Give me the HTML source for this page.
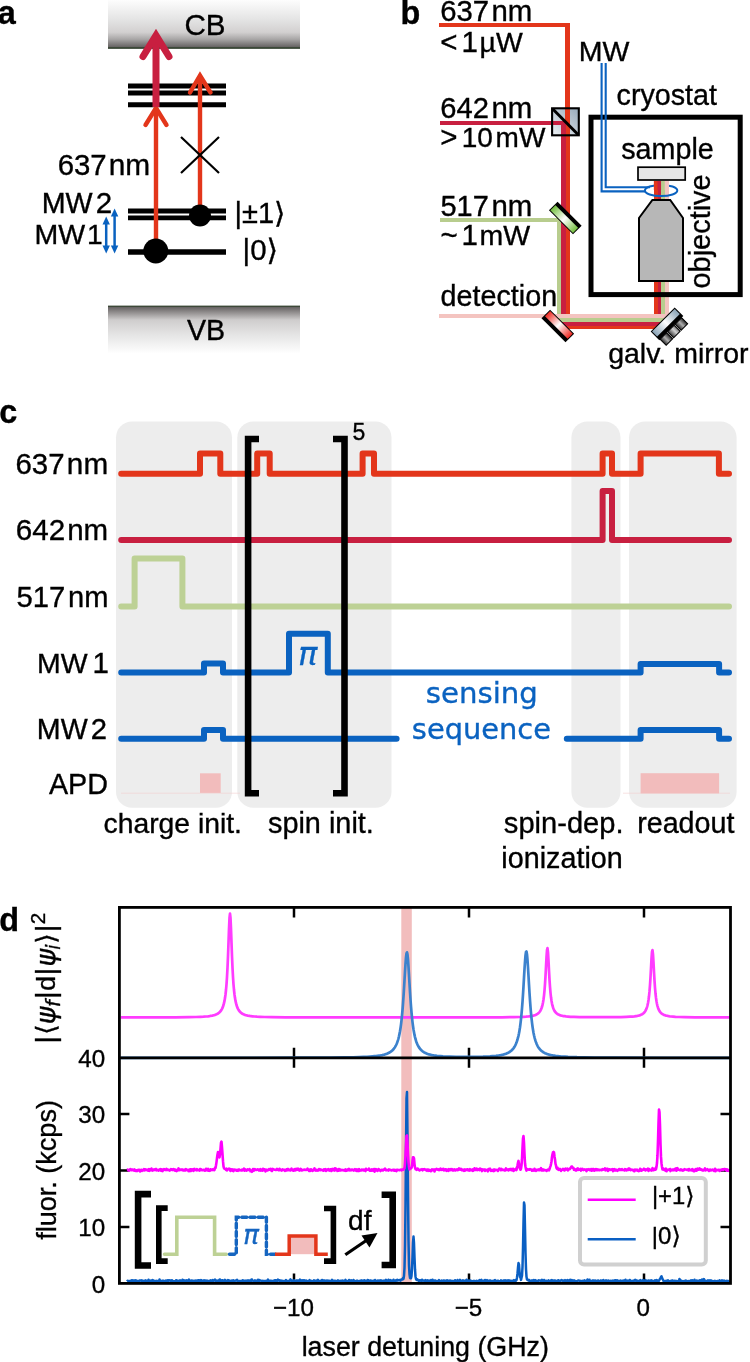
<!DOCTYPE html>
<html><head><meta charset="utf-8"><title>Figure</title>
<style>html,body{margin:0;padding:0;background:#fff;width:750px;height:1362px;overflow:hidden}svg{display:block}</style>
</head><body>
<svg width="750" height="1362" viewBox="0 0 750 1362" font-family='"Liberation Sans", "DejaVu Sans", Arial, sans-serif'><defs>
<linearGradient id="gCB" x1="0" y1="0" x2="0" y2="1">
 <stop offset="0" stop-color="#fdfdfd"/>
 <stop offset="0.40" stop-color="#e4e4e4"/>
 <stop offset="0.66" stop-color="#d2d0d0"/>
 <stop offset="0.80" stop-color="#a9a7a7"/>
 <stop offset="0.96" stop-color="#676363"/>
 <stop offset="0.97" stop-color="#3c4838"/>
 <stop offset="1" stop-color="#3c4838"/>
</linearGradient>
<linearGradient id="gVB" x1="0" y1="0" x2="0" y2="1">
 <stop offset="0" stop-color="#3c4838"/>
 <stop offset="0.03" stop-color="#3c4838"/>
 <stop offset="0.04" stop-color="#6a6666"/>
 <stop offset="0.30" stop-color="#cfcdcd"/>
 <stop offset="0.60" stop-color="#e4e4e4"/>
 <stop offset="1" stop-color="#ffffff"/>
</linearGradient>
<linearGradient id="gCube" x1="1" y1="0" x2="0" y2="1">
 <stop offset="0" stop-color="#95a9ba"/>
 <stop offset="1" stop-color="#eef2f5"/>
</linearGradient>
<linearGradient id="gMirG" x1="0" y1="0" x2="1" y2="0">
 <stop offset="0" stop-color="#74bf40"/>
 <stop offset="0.5" stop-color="#ffffff"/>
 <stop offset="1" stop-color="#74bf40"/>
</linearGradient>
<linearGradient id="gMirR" x1="0" y1="0" x2="1" y2="0">
 <stop offset="0" stop-color="#ee2a22"/>
 <stop offset="0.5" stop-color="#ffffff"/>
 <stop offset="1" stop-color="#ee2a22"/>
</linearGradient>
<linearGradient id="gMirB" x1="0" y1="0" x2="1" y2="0">
 <stop offset="0" stop-color="#8aa3b6"/>
 <stop offset="0.5" stop-color="#ffffff"/>
 <stop offset="1" stop-color="#8aa3b6"/>
</linearGradient>
<linearGradient id="gMot" x1="0" y1="0" x2="1" y2="0">
 <stop offset="0" stop-color="#2a2a2a"/>
 <stop offset="0.5" stop-color="#b0b0b0"/>
 <stop offset="1" stop-color="#2a2a2a"/>
</linearGradient>
<linearGradient id="gMot2" x1="0" y1="0" x2="1" y2="0">
 <stop offset="0" stop-color="#3a3a3a"/>
 <stop offset="0.6" stop-color="#d0d0d0"/>
 <stop offset="1" stop-color="#808080"/>
</linearGradient>
</defs>
<rect x="108" y="0" width="192" height="48.9" fill="url(#gCB)"/>
<rect x="108" y="305.6" width="192" height="48" fill="url(#gVB)"/>
<text x="184.42" y="34.7" font-size="29.60" fill="#000" font-family='"Liberation Sans", "DejaVu Sans", sans-serif' font-weight="normal" font-style="normal" stroke="#000" stroke-width="0.35" >CB</text>
<text x="187.00" y="340" font-size="28.63" fill="#000" font-family='"Liberation Sans", "DejaVu Sans", sans-serif' font-weight="normal" font-style="normal" stroke="#000" stroke-width="0.35" >VB</text>
<text x="-2.31" y="23.7" font-size="32.40" fill="#000" font-family='"Liberation Sans", "DejaVu Sans", sans-serif' font-weight="bold" font-style="normal" stroke="#000" stroke-width="0.35" >a</text>
<line x1="128" y1="86.1" x2="226" y2="86.1" stroke="#000" stroke-width="5"/>
<line x1="128" y1="93.0" x2="226" y2="93.0" stroke="#000" stroke-width="5"/>
<line x1="128" y1="104.7" x2="226" y2="104.7" stroke="#000" stroke-width="5"/>
<line x1="128" y1="211.0" x2="226" y2="211.0" stroke="#000" stroke-width="4.8"/>
<line x1="128" y1="217.9" x2="226" y2="217.9" stroke="#000" stroke-width="4.8"/>
<line x1="128" y1="252" x2="226" y2="252" stroke="#000" stroke-width="5.5"/>
<line x1="156" y1="250" x2="156" y2="110" stroke="#e3361b" stroke-width="4.4"/>
<polyline points="145.5,125 156,108 166.5,125" fill="none" stroke="#e3361b" stroke-width="4.4" stroke-linecap="round" stroke-linejoin="miter"/>
<line x1="200" y1="215" x2="200" y2="76" stroke="#e3361b" stroke-width="4.4"/>
<polyline points="190,92.5 200,75.5 210.5,92.5" fill="none" stroke="#e3361b" stroke-width="4.4" stroke-linecap="round" stroke-linejoin="miter"/>
<line x1="156" y1="107" x2="156" y2="38" stroke="#c81f40" stroke-width="7"/>
<polyline points="143,56.5 156,35.5 169,56.5" fill="none" stroke="#c81f40" stroke-width="7" stroke-linecap="round" stroke-linejoin="miter"/>
<path d="M181,137 L219,173 M219,137 L181,173" stroke="#000" stroke-width="2.2"/>
<circle cx="155.8" cy="251" r="12.5" fill="#000"/>
<circle cx="200" cy="215.5" r="11" fill="#000"/>
<text x="57.63" y="175.3" font-size="29.38" fill="#000" font-family='"Liberation Sans", "DejaVu Sans", sans-serif' font-weight="normal" font-style="normal" stroke="#000" stroke-width="0.35" >637</text>
<text x="108.76" y="175.3" font-size="29.89" fill="#000" font-family='"Liberation Sans", "DejaVu Sans", sans-serif' font-weight="normal" font-style="normal" stroke="#000" stroke-width="0.35" >nm</text>
<text x="41.71" y="213" font-size="28.68" fill="#000" font-family='"Liberation Sans", "DejaVu Sans", sans-serif' font-weight="normal" font-style="normal" stroke="#000" stroke-width="0.35" >MW</text>
<text x="95.83" y="213" font-size="29.50" fill="#000" font-family='"Liberation Sans", "DejaVu Sans", sans-serif' font-weight="normal" font-style="normal" stroke="#000" stroke-width="0.35" >2</text>
<text x="34.62" y="244.3" font-size="28.50" fill="#000" font-family='"Liberation Sans", "DejaVu Sans", sans-serif' font-weight="normal" font-style="normal" stroke="#000" stroke-width="0.35" >MW</text>
<text x="86.89" y="244.3" font-size="28.20" fill="#000" font-family='"Liberation Sans", "DejaVu Sans", sans-serif' font-weight="normal" font-style="normal" stroke="#000" stroke-width="0.35" >1</text>
<text x="234.53" y="223.2" font-size="29.03" fill="#000" font-family='"Liberation Sans", "DejaVu Sans", sans-serif' font-weight="normal" font-style="normal" stroke="#000" stroke-width="0.35" >|±1⟩</text>
<text x="242.50" y="260" font-size="29.44" fill="#000" font-family='"Liberation Sans", "DejaVu Sans", sans-serif' font-weight="normal" font-style="normal" stroke="#000" stroke-width="0.35" >|0⟩</text>
<line x1="106.2" y1="223.5" x2="106.2" y2="246.5" stroke="#0a62c0" stroke-width="2.5"/>
<polygon points="106.2,216.5 102.5,224.5 109.9,224.5" fill="#0a62c0"/>
<polygon points="106.2,253.5 102.5,245.5 109.9,245.5" fill="#0a62c0"/>
<line x1="114.6" y1="215.5" x2="114.6" y2="246.5" stroke="#0a62c0" stroke-width="2.5"/>
<polygon points="114.6,208.5 110.89999999999999,216.5 118.3,216.5" fill="#0a62c0"/>
<polygon points="114.6,253.5 110.89999999999999,245.5 118.3,245.5" fill="#0a62c0"/>
<text x="400.49" y="23.5" font-size="32.40" fill="#000" font-family='"Liberation Sans", "DejaVu Sans", sans-serif' font-weight="bold" font-style="normal" stroke="#000" stroke-width="0.35" >b</text>
<text x="440.23" y="20.5" font-size="29.32" fill="#000" font-family='"Liberation Sans", "DejaVu Sans", sans-serif' font-weight="normal" font-style="normal" stroke="#000" stroke-width="0.35" >637</text>
<text x="491.49" y="20.5" font-size="29.42" fill="#000" font-family='"Liberation Sans", "DejaVu Sans", sans-serif' font-weight="normal" font-style="normal" stroke="#000" stroke-width="0.35" >nm</text>
<text x="440.37" y="52" font-size="29.50" fill="#000" font-family='"Liberation Sans", "DejaVu Sans", sans-serif' font-weight="normal" font-style="normal" stroke="#000" stroke-width="0.35" >&lt;</text>
<text x="461.59" y="52" font-size="29.50" fill="#000" font-family='"Liberation Sans", "DejaVu Sans", sans-serif' font-weight="normal" font-style="normal" stroke="#000" stroke-width="0.35" >1</text>
<text x="479.56" y="52" font-size="28.36" fill="#000" font-family='"Liberation Sans", "DejaVu Sans", sans-serif' font-weight="normal" font-style="normal" stroke="#000" stroke-width="0.35" >µW</text>
<text x="440.24" y="118" font-size="29.13" fill="#000" font-family='"Liberation Sans", "DejaVu Sans", sans-serif' font-weight="normal" font-style="normal" stroke="#000" stroke-width="0.35" >642</text>
<text x="491.49" y="118" font-size="29.42" fill="#000" font-family='"Liberation Sans", "DejaVu Sans", sans-serif' font-weight="normal" font-style="normal" stroke="#000" stroke-width="0.35" >nm</text>
<text x="440.37" y="146.9" font-size="29.50" fill="#000" font-family='"Liberation Sans", "DejaVu Sans", sans-serif' font-weight="normal" font-style="normal" stroke="#000" stroke-width="0.35" >&gt;</text>
<text x="461.70" y="146.9" font-size="27.97" fill="#000" font-family='"Liberation Sans", "DejaVu Sans", sans-serif' font-weight="normal" font-style="normal" stroke="#000" stroke-width="0.35" >10</text>
<text x="495.58" y="146.9" font-size="28.02" fill="#000" font-family='"Liberation Sans", "DejaVu Sans", sans-serif' font-weight="normal" font-style="normal" stroke="#000" stroke-width="0.35" >mW</text>
<text x="440.54" y="215.6" font-size="28.95" fill="#000" font-family='"Liberation Sans", "DejaVu Sans", sans-serif' font-weight="normal" font-style="normal" stroke="#000" stroke-width="0.35" >517</text>
<text x="491.49" y="215.6" font-size="29.42" fill="#000" font-family='"Liberation Sans", "DejaVu Sans", sans-serif' font-weight="normal" font-style="normal" stroke="#000" stroke-width="0.35" >nm</text>
<text x="440.52" y="245.2" font-size="29.50" fill="#000" font-family='"Liberation Sans", "DejaVu Sans", sans-serif' font-weight="normal" font-style="normal" stroke="#000" stroke-width="0.35" >~</text>
<text x="461.59" y="245.2" font-size="29.50" fill="#000" font-family='"Liberation Sans", "DejaVu Sans", sans-serif' font-weight="normal" font-style="normal" stroke="#000" stroke-width="0.35" >1</text>
<text x="479.55" y="245.2" font-size="28.49" fill="#000" font-family='"Liberation Sans", "DejaVu Sans", sans-serif' font-weight="normal" font-style="normal" stroke="#000" stroke-width="0.35" >mW</text>
<text x="440.55" y="305.9" font-size="28.73" fill="#000" font-family='"Liberation Sans", "DejaVu Sans", sans-serif' font-weight="normal" font-style="normal" stroke="#000" stroke-width="0.35" >detection</text>
<text x="578.72" y="60.8" font-size="28.50" fill="#000" font-family='"Liberation Sans", "DejaVu Sans", sans-serif' font-weight="normal" font-style="normal" stroke="#000" stroke-width="0.35" >MW</text>
<text x="616.55" y="105.3" font-size="28.69" fill="#000" font-family='"Liberation Sans", "DejaVu Sans", sans-serif' font-weight="normal" font-style="normal" stroke="#000" stroke-width="0.35" >cryostat</text>
<text x="621.28" y="158.7" font-size="28.69" fill="#000" font-family='"Liberation Sans", "DejaVu Sans", sans-serif' font-weight="normal" font-style="normal" stroke="#000" stroke-width="0.35" >sample</text>
<text x="608.16" y="363" font-size="28.50" fill="#000" font-family='"Liberation Sans", "DejaVu Sans", sans-serif' font-weight="normal" font-style="normal" stroke="#000" stroke-width="0.35" >galv. mirror</text>
<text x="0" y="0" transform="translate(709.8,288.46) rotate(-90)" font-size="28.92" fill="#000" font-family='"Liberation Sans", "DejaVu Sans", sans-serif' font-weight="normal" font-style="normal" stroke="#000" stroke-width="0.35" >objective</text>
<rect x="552.1" y="108.3" width="26.7" height="27" fill="url(#gCube)"/>
<polyline points="439,25 567.6,25 567.6,327.0 656,327.0 656,181" fill="none" stroke="#e3361b" stroke-width="4.3" stroke-linejoin="miter" shape-rendering="crispEdges"/>
<polyline points="440,122.7 563.5,122.7 563.5,323.4 659.7,323.4 659.7,181" fill="none" stroke="#c81f40" stroke-width="4.3" stroke-linejoin="miter" shape-rendering="crispEdges"/>
<polyline points="440,220.3 559.3,220.3 559.3,319.8 663.2,319.8 663.2,181" fill="none" stroke="#b8cd8e" stroke-width="4.3" stroke-linejoin="miter" shape-rendering="crispEdges"/>
<polyline points="439,316.2 666.9,316.2 666.9,181" fill="none" stroke="#f4c4c0" stroke-width="4.3" stroke-linejoin="miter" shape-rendering="crispEdges"/>
<rect x="591" y="117.2" width="149.2" height="177.4" fill="none" stroke="#000" stroke-width="5"/>
<rect x="552.1" y="108.3" width="26.7" height="27" fill="none" stroke="#000" stroke-width="2.1"/>
<line x1="552.5" y1="108.7" x2="578.5" y2="135" stroke="#000" stroke-width="3"/>
<path d="M601.6,62.9 V191.4 H646" fill="none" stroke="#0a62c0" stroke-width="2.1"/>
<path d="M605.7,62.9 V187.3 H650" fill="none" stroke="#0a62c0" stroke-width="2.1"/>
<ellipse cx="661.1" cy="190.5" rx="16.2" ry="5.6" fill="none" stroke="#0a62c0" stroke-width="2"/>
<line x1="656" y1="181" x2="656" y2="190" stroke="#e3361b" stroke-width="4.3"/>
<line x1="659.7" y1="181" x2="659.7" y2="190" stroke="#c81f40" stroke-width="4.3"/>
<line x1="663.2" y1="181" x2="663.2" y2="190" stroke="#b8cd8e" stroke-width="4.3"/>
<line x1="666.9" y1="181" x2="666.9" y2="190" stroke="#f4c4c0" stroke-width="4.3"/>
<rect x="638" y="167.2" width="47.2" height="12.8" fill="#e6e6e6" stroke="#000" stroke-width="1.7"/>
<polygon points="652.4,200 670.2,200 683,218 683,281 639,281 639,218" fill="#b7b7b7" stroke="#000" stroke-width="2"/>
<g transform="translate(565.3,218) rotate(45)"><rect x="-17.0" y="-6.1" width="34" height="12.2" fill="#000"/><rect x="-16.0" y="-2.0999999999999996" width="32" height="7.199999999999999" fill="url(#gMirG)"/></g>
<g transform="translate(557.8,326) rotate(45)"><rect x="-17.0" y="-6.1" width="34" height="12.2" fill="#000"/><rect x="-16.0" y="-5.1" width="32" height="7.199999999999999" fill="url(#gMirR)"/></g>
<g transform="translate(667,323.8) rotate(-45)"><rect x="-17.0" y="-6.1" width="34" height="12.2" fill="#000"/><rect x="-16.0" y="-5.1" width="32" height="7.199999999999999" fill="url(#gMirB)"/><rect x="-15.799999999999999" y="6" width="9.2" height="8.6" fill="url(#gMot)" stroke="#000" stroke-width="1"/><rect x="-5.199999999999999" y="6" width="9.2" height="8.6" fill="url(#gMot2)" stroke="#000" stroke-width="1"/><rect x="5.4" y="6" width="9.2" height="8.6" fill="url(#gMot)" stroke="#000" stroke-width="1"/></g>
<text x="-0.87" y="422.7" font-size="32.40" fill="#000" font-family='"Liberation Sans", "DejaVu Sans", sans-serif' font-weight="bold" font-style="normal" stroke="#000" stroke-width="0.35" >c</text>
<rect x="116" y="421.5" width="116" height="386.2" rx="16" ry="16" fill="#ededed"/>
<rect x="237.3" y="421.5" width="154.2" height="386.2" rx="16" ry="16" fill="#ededed"/>
<rect x="571.4" y="421.5" width="49.10000000000002" height="386.2" rx="16" ry="16" fill="#ededed"/>
<rect x="629" y="421.5" width="107.60000000000002" height="386.2" rx="16" ry="16" fill="#ededed"/>
<line x1="121" y1="793.2" x2="240" y2="793.2" stroke="#f3d0d0" stroke-width="0.6"/>
<line x1="623" y1="793.2" x2="730" y2="793.2" stroke="#f3d0d0" stroke-width="0.6"/>
<rect x="200" y="773.3" width="20.7" height="19.6" fill="#f2bcbc"/>
<rect x="640.6" y="773.2" width="78.5" height="20.2" fill="#f2bcbc"/>
<path d="M121.2,473.7 H200 V453.5 H220.3 V473.7 H257.2 V453.5 H269.7 V473.7 H362.6 V453.5 H374 V473.7 H602.6 V453.5 H612 V473.7 H640.6 V453.5 H718.9 V473.7 H729" fill="none" stroke="#e3361b" stroke-width="6" stroke-linecap="round" stroke-linejoin="round"/>
<path d="M121.2,540 H602.6 V491 H612 V540 H729" fill="none" stroke="#c81f40" stroke-width="6" stroke-linecap="round" stroke-linejoin="round"/>
<path d="M121.2,606.4 H134.6 V558.6 H182.4 V606.4 H729" fill="none" stroke="#bdd195" stroke-width="6" stroke-linecap="round" stroke-linejoin="round"/>
<path d="M121.2,672.6 H204 V663.6 H223 V672.6 H289 V633.7 H327.8 V672.6 H640.6 V664 H719.1 V672.6 H729" fill="none" stroke="#0a62c0" stroke-width="6" stroke-linecap="round" stroke-linejoin="round"/>
<path d="M121.2,738.8 H204 V730 H223 V738.8 H396.6" fill="none" stroke="#0a62c0" stroke-width="6" stroke-linecap="round" stroke-linejoin="round"/>
<path d="M566.8,738.8 H640.6 V730 H719.1 V738.8 H729" fill="none" stroke="#0a62c0" stroke-width="6" stroke-linecap="round" stroke-linejoin="round"/>
<path d="M259,439 H248.1 V793.3 H259" fill="none" stroke="#000" stroke-width="6.6"/>
<path d="M333,439 H344.5 V793.3 H333" fill="none" stroke="#000" stroke-width="6.6"/>
<text x="352.58" y="439.5" font-size="23.00" fill="#000" font-family='"Liberation Sans", "DejaVu Sans", sans-serif' font-weight="normal" font-style="normal" stroke="#000" stroke-width="0.35" >5</text>
<text x="298.31" y="664.6" font-size="31.75" fill="#0a62c0" font-family='"DejaVu Sans", sans-serif' font-weight="normal" font-style="italic" stroke="#0a62c0" stroke-width="0.35" >π</text>
<text x="425.74" y="703.2" font-size="29.21" fill="#0a62c0" font-family='"DejaVu Sans", sans-serif' font-weight="normal" font-style="normal" stroke="#0a62c0" stroke-width="0.35" >sensing</text>
<text x="411.86" y="739.2" font-size="28.89" fill="#0a62c0" font-family='"DejaVu Sans", sans-serif' font-weight="normal" font-style="normal" stroke="#0a62c0" stroke-width="0.35" >sequence</text>
<text x="15.53" y="474.1" font-size="29.38" fill="#000" font-family='"Liberation Sans", "DejaVu Sans", sans-serif' font-weight="normal" font-style="normal" stroke="#000" stroke-width="0.35" >637</text>
<text x="66.87" y="474.1" font-size="29.73" fill="#000" font-family='"Liberation Sans", "DejaVu Sans", sans-serif' font-weight="normal" font-style="normal" stroke="#000" stroke-width="0.35" >nm</text>
<text x="15.82" y="540.2" font-size="29.64" fill="#000" font-family='"Liberation Sans", "DejaVu Sans", sans-serif' font-weight="normal" font-style="normal" stroke="#000" stroke-width="0.35" >642</text>
<text x="67.18" y="540.2" font-size="29.50" fill="#000" font-family='"Liberation Sans", "DejaVu Sans", sans-serif' font-weight="normal" font-style="normal" stroke="#000" stroke-width="0.35" >nm</text>
<text x="16.53" y="606.6" font-size="29.20" fill="#000" font-family='"Liberation Sans", "DejaVu Sans", sans-serif' font-weight="normal" font-style="normal" stroke="#000" stroke-width="0.35" >517</text>
<text x="68.01" y="606.6" font-size="29.10" fill="#000" font-family='"Liberation Sans", "DejaVu Sans", sans-serif' font-weight="normal" font-style="normal" stroke="#000" stroke-width="0.35" >nm</text>
<text x="37.12" y="672.7" font-size="28.45" fill="#000" font-family='"Liberation Sans", "DejaVu Sans", sans-serif' font-weight="normal" font-style="normal" stroke="#000" stroke-width="0.35" >MW</text>
<text x="92.49" y="672.7" font-size="29.50" fill="#000" font-family='"Liberation Sans", "DejaVu Sans", sans-serif' font-weight="normal" font-style="normal" stroke="#000" stroke-width="0.35" >1</text>
<text x="36.81" y="739.4" font-size="28.62" fill="#000" font-family='"Liberation Sans", "DejaVu Sans", sans-serif' font-weight="normal" font-style="normal" stroke="#000" stroke-width="0.35" >MW</text>
<text x="90.84" y="739.4" font-size="29.20" fill="#000" font-family='"Liberation Sans", "DejaVu Sans", sans-serif' font-weight="normal" font-style="normal" stroke="#000" stroke-width="0.35" >2</text>
<text x="48.90" y="793.7" font-size="28.72" fill="#000" font-family='"Liberation Sans", "DejaVu Sans", sans-serif' font-weight="normal" font-style="normal" stroke="#000" stroke-width="0.35" >APD</text>
<text x="103.57" y="832.6" font-size="28.30" fill="#000" font-family='"Liberation Sans", "DejaVu Sans", sans-serif' font-weight="normal" font-style="normal" stroke="#000" stroke-width="0.35" >charge init.</text>
<text x="267.98" y="832.6" font-size="28.86" fill="#000" font-family='"Liberation Sans", "DejaVu Sans", sans-serif' font-weight="normal" font-style="normal" stroke="#000" stroke-width="0.35" >spin init.</text>
<text x="503.87" y="832.6" font-size="29.09" fill="#000" font-family='"Liberation Sans", "DejaVu Sans", sans-serif' font-weight="normal" font-style="normal" stroke="#000" stroke-width="0.35" >spin-dep.</text>
<text x="637.13" y="832.6" font-size="28.70" fill="#000" font-family='"Liberation Sans", "DejaVu Sans", sans-serif' font-weight="normal" font-style="normal" stroke="#000" stroke-width="0.35" >readout</text>
<text x="501.33" y="868.3" font-size="28.74" fill="#000" font-family='"Liberation Sans", "DejaVu Sans", sans-serif' font-weight="normal" font-style="normal" stroke="#000" stroke-width="0.35" >ionization</text>
<text x="-0.66" y="930.5" font-size="32.40" fill="#000" font-family='"Liberation Sans", "DejaVu Sans", sans-serif' font-weight="bold" font-style="normal" stroke="#000" stroke-width="0.35" >d</text>
<rect x="401.3" y="907.4" width="10.5" height="376.0000000000001" fill="#f2bdbd"/>
<path d="M294,907.4 v10 M294,1057.8 v-10 M294,1057.8 v10 M294,1283.4 v-10" stroke="#000" stroke-width="2.5"/>
<path d="M469,907.4 v10 M469,1057.8 v-10 M469,1057.8 v10 M469,1283.4 v-10" stroke="#000" stroke-width="2.5"/>
<path d="M644,907.4 v10 M644,1057.8 v-10 M644,1057.8 v10 M644,1283.4 v-10" stroke="#000" stroke-width="2.5"/>
<path d="M119.4,1226.9 h10 M730.5,1226.9 h-10" stroke="#000" stroke-width="2.5"/>
<path d="M119.4,1170.4 h10 M730.5,1170.4 h-10" stroke="#000" stroke-width="2.5"/>
<path d="M119.4,1113.9 h10 M730.5,1113.9 h-10" stroke="#000" stroke-width="2.5"/>
<polyline points="121.0,1017.4 175.5,1017.3 189.0,1017.1 196.0,1017.0 200.5,1016.8 203.5,1016.7 206.0,1016.5 208.0,1016.3 209.5,1016.1 210.0,1016.0 210.5,1015.9 211.0,1015.9 211.5,1015.8 212.0,1015.7 212.5,1015.6 213.0,1015.5 213.5,1015.3 214.0,1015.2 214.5,1015.1 215.0,1014.9 215.5,1014.7 216.0,1014.5 216.5,1014.3 217.0,1014.1 217.5,1013.8 218.0,1013.5 218.5,1013.2 219.0,1012.8 219.5,1012.3 220.0,1011.8 220.5,1011.3 221.0,1010.6 221.5,1009.8 222.0,1008.9 222.5,1007.9 223.0,1006.6 223.5,1005.0 224.0,1003.2 224.5,1000.9 225.0,998.1 225.5,994.5 226.0,990.0 226.5,984.3 227.0,977.0 227.5,967.7 228.0,956.2 228.5,942.9 229.0,929.0 229.5,918.0 230.0,913.7 230.5,918.0 231.0,929.0 231.5,942.9 232.0,956.2 232.5,967.7 233.0,977.0 233.5,984.3 234.0,990.0 234.5,994.5 235.0,998.1 235.5,1000.9 236.0,1003.2 236.5,1005.0 237.0,1006.6 237.5,1007.9 238.0,1008.9 238.5,1009.8 239.0,1010.6 239.5,1011.3 240.0,1011.8 240.5,1012.3 241.0,1012.8 241.5,1013.2 242.0,1013.5 242.5,1013.8 243.0,1014.1 243.5,1014.3 244.0,1014.5 244.5,1014.7 245.0,1014.9 245.5,1015.1 246.0,1015.2 246.5,1015.3 247.0,1015.5 247.5,1015.6 248.0,1015.7 248.5,1015.8 249.0,1015.9 249.5,1015.9 251.0,1016.2 252.5,1016.3 254.5,1016.5 257.0,1016.7 260.0,1016.8 264.5,1017.0 271.5,1017.1 285.5,1017.3 356.0,1017.4 502.0,1017.3 514.0,1017.1 520.0,1017.0 523.5,1016.8 526.0,1016.7 528.0,1016.5 529.5,1016.3 530.5,1016.2 531.0,1016.1 531.5,1016.0 532.0,1016.0 532.5,1015.9 533.0,1015.7 533.5,1015.6 534.0,1015.5 534.5,1015.3 535.0,1015.2 535.5,1015.0 536.0,1014.7 536.5,1014.5 537.0,1014.2 537.5,1013.9 538.0,1013.5 538.5,1013.1 539.0,1012.6 539.5,1012.0 540.0,1011.3 540.5,1010.5 541.0,1009.5 541.5,1008.3 542.0,1006.8 542.5,1004.9 543.0,1002.5 543.5,999.5 544.0,995.6 544.5,990.6 545.0,984.2 545.5,976.2 546.0,966.8 546.5,957.2 547.0,950.0 547.5,948.1 548.0,952.4 548.5,960.9 549.0,970.6 549.5,979.6 550.0,986.9 550.5,992.8 551.0,997.3 551.5,1000.8 552.0,1003.6 552.5,1005.7 553.0,1007.4 553.5,1008.8 554.0,1009.9 554.5,1010.9 555.0,1011.6 555.5,1012.3 556.0,1012.8 556.5,1013.3 557.0,1013.7 557.5,1014.0 558.0,1014.3 558.5,1014.6 559.0,1014.8 559.5,1015.0 560.0,1015.2 560.5,1015.4 561.0,1015.5 561.5,1015.7 562.0,1015.8 562.5,1015.9 563.0,1016.0 563.5,1016.1 564.5,1016.2 566.0,1016.4 568.0,1016.6 570.5,1016.8 574.0,1016.9 579.5,1017.1 594.5,1017.2 621.0,1017.1 626.5,1016.9 630.0,1016.7 632.5,1016.6 634.5,1016.4 636.0,1016.1 636.5,1016.1 637.0,1016.0 637.5,1015.9 638.0,1015.8 638.5,1015.7 639.0,1015.5 639.5,1015.4 640.0,1015.2 640.5,1015.0 641.0,1014.8 641.5,1014.6 642.0,1014.3 642.5,1014.0 643.0,1013.6 643.5,1013.2 644.0,1012.7 644.5,1012.2 645.0,1011.5 645.5,1010.7 646.0,1009.7 646.5,1008.6 647.0,1007.1 647.5,1005.3 648.0,1003.0 648.5,1000.0 649.0,996.3 649.5,991.4 650.0,985.1 650.5,977.3 651.0,968.2 651.5,958.9 652.0,951.9 652.5,950.1 653.0,954.3 653.5,962.5 654.0,972.0 654.5,980.7 655.0,987.8 655.5,993.5 656.0,997.9 656.5,1001.3 657.0,1004.0 657.5,1006.1 658.0,1007.7 658.5,1009.1 659.0,1010.2 659.5,1011.1 660.0,1011.8 660.5,1012.4 661.0,1013.0 661.5,1013.4 662.0,1013.8 662.5,1014.1 663.0,1014.4 663.5,1014.7 664.0,1014.9 664.5,1015.1 665.0,1015.3 665.5,1015.5 666.0,1015.6 666.5,1015.7 667.0,1015.8 667.5,1015.9 668.0,1016.0 668.5,1016.1 669.5,1016.3 671.0,1016.5 673.0,1016.6 675.5,1016.8 679.0,1017.0 684.5,1017.1 695.0,1017.3 729.5,1017.4" fill="none" stroke="#ff3cff" stroke-width="2.7" stroke-linejoin="round" />
<polyline points="121.0,1057.9 300.5,1057.7 330.5,1057.6 344.5,1057.4 353.0,1057.3 359.0,1057.1 363.5,1056.9 367.0,1056.8 370.0,1056.6 372.5,1056.4 374.5,1056.2 376.0,1056.1 377.5,1055.9 379.0,1055.7 379.5,1055.6 380.0,1055.5 380.5,1055.5 381.0,1055.4 381.5,1055.3 382.0,1055.2 382.5,1055.1 383.0,1054.9 383.5,1054.8 384.0,1054.7 384.5,1054.6 385.0,1054.4 385.5,1054.3 386.0,1054.1 386.5,1053.9 387.0,1053.7 387.5,1053.5 388.0,1053.3 388.5,1053.0 389.0,1052.8 389.5,1052.5 390.0,1052.2 390.5,1051.9 391.0,1051.5 391.5,1051.1 392.0,1050.7 392.5,1050.2 393.0,1049.7 393.5,1049.2 394.0,1048.5 394.5,1047.9 395.0,1047.1 395.5,1046.2 396.0,1045.3 396.5,1044.2 397.0,1043.0 397.5,1041.6 398.0,1040.1 398.5,1038.3 399.0,1036.3 399.5,1033.9 400.0,1031.3 400.5,1028.2 401.0,1024.6 401.5,1020.4 402.0,1015.6 402.5,1010.1 403.0,1003.7 403.5,996.5 404.0,988.6 404.5,980.2 405.0,971.7 405.5,963.8 406.0,957.4 406.5,953.3 407.0,952.3 407.5,954.6 408.0,959.7 408.5,966.8 409.0,975.1 409.5,983.6 410.0,991.9 410.5,999.5 411.0,1006.3 411.5,1012.3 412.0,1017.6 412.5,1022.1 413.0,1026.0 413.5,1029.4 414.0,1032.3 414.5,1034.9 415.0,1037.1 415.5,1039.0 416.0,1040.7 416.5,1042.2 417.0,1043.5 417.5,1044.6 418.0,1045.6 418.5,1046.5 419.0,1047.4 419.5,1048.1 420.0,1048.8 420.5,1049.3 421.0,1049.9 421.5,1050.4 422.0,1050.8 422.5,1051.2 423.0,1051.6 423.5,1051.9 424.0,1052.3 424.5,1052.6 425.0,1052.8 425.5,1053.1 426.0,1053.3 426.5,1053.5 427.0,1053.7 427.5,1053.9 428.0,1054.1 428.5,1054.2 429.0,1054.4 429.5,1054.5 430.0,1054.6 430.5,1054.8 431.0,1054.9 431.5,1055.0 432.0,1055.1 432.5,1055.2 433.0,1055.3 433.5,1055.4 434.0,1055.5 435.5,1055.7 437.0,1055.9 438.5,1056.0 440.5,1056.2 443.0,1056.4 446.0,1056.5 450.0,1056.7 456.0,1056.9 483.0,1056.7 487.0,1056.5 490.0,1056.4 492.5,1056.2 494.5,1056.0 496.0,1055.9 497.5,1055.7 498.5,1055.5 499.0,1055.5 499.5,1055.4 500.0,1055.3 500.5,1055.2 501.0,1055.1 501.5,1055.0 502.0,1054.9 502.5,1054.8 503.0,1054.7 503.5,1054.5 504.0,1054.4 504.5,1054.3 505.0,1054.1 505.5,1053.9 506.0,1053.7 506.5,1053.6 507.0,1053.3 507.5,1053.1 508.0,1052.9 508.5,1052.6 509.0,1052.3 509.5,1052.0 510.0,1051.7 510.5,1051.3 511.0,1050.9 511.5,1050.5 512.0,1050.0 512.5,1049.5 513.0,1048.9 513.5,1048.3 514.0,1047.6 514.5,1046.8 515.0,1045.9 515.5,1044.9 516.0,1043.8 516.5,1042.6 517.0,1041.1 517.5,1039.5 518.0,1037.7 518.5,1035.6 519.0,1033.2 519.5,1030.4 520.0,1027.2 520.5,1023.4 521.0,1019.1 521.5,1014.1 522.0,1008.4 522.5,1001.8 523.0,994.4 523.5,986.3 524.0,977.7 524.5,969.2 525.0,961.5 525.5,955.4 526.0,951.9 526.5,951.5 527.0,954.4 527.5,960.1 528.0,967.6 528.5,976.0 529.0,984.6 529.5,992.8 530.0,1000.4 530.5,1007.1 531.0,1013.1 531.5,1018.2 532.0,1022.7 532.5,1026.5 533.0,1029.8 533.5,1032.7 534.0,1035.2 534.5,1037.3 535.0,1039.2 535.5,1040.9 536.0,1042.3 536.5,1043.6 537.0,1044.7 537.5,1045.8 538.0,1046.7 538.5,1047.5 539.0,1048.2 539.5,1048.8 540.0,1049.4 540.5,1050.0 541.0,1050.5 541.5,1050.9 542.0,1051.3 542.5,1051.7 543.0,1052.0 543.5,1052.3 544.0,1052.6 544.5,1052.9 545.0,1053.2 545.5,1053.4 546.0,1053.6 546.5,1053.8 547.0,1054.0 547.5,1054.2 548.0,1054.3 548.5,1054.5 549.0,1054.6 549.5,1054.7 550.0,1054.9 550.5,1055.0 551.0,1055.1 551.5,1055.2 552.0,1055.3 552.5,1055.4 553.0,1055.5 553.5,1055.6 554.0,1055.6 555.5,1055.9 557.0,1056.0 558.5,1056.2 560.5,1056.4 562.5,1056.5 565.0,1056.7 568.0,1056.9 572.0,1057.0 577.0,1057.2 584.0,1057.3 594.5,1057.5 614.0,1057.6 667.5,1057.8 729.5,1057.8" fill="none" stroke="#3c82cd" stroke-width="2.7" stroke-linejoin="round" />
<polyline points="127.0,1281.4 127.5,1280.8 128.0,1280.8 128.5,1281.4 129.0,1281.3 129.5,1280.9 130.0,1281.1 130.5,1281.3 131.0,1281.0 131.5,1280.2 132.0,1281.4 132.5,1280.4 133.0,1280.8 133.5,1280.4 134.0,1280.6 134.5,1280.5 135.0,1281.3 135.5,1280.4 136.0,1281.0 136.5,1280.6 137.0,1281.2 137.5,1281.0 138.0,1281.2 138.5,1281.2 139.0,1281.0 139.5,1280.6 140.0,1280.6 140.5,1280.6 141.0,1280.5 141.5,1281.0 142.0,1280.4 142.5,1281.3 143.0,1281.2 143.5,1281.2 144.0,1280.8 144.5,1281.2 145.0,1280.8 145.5,1280.4 146.0,1281.0 146.5,1281.3 147.0,1280.8 147.5,1280.7 148.0,1281.2 148.5,1279.8 149.0,1281.0 149.5,1281.1 150.0,1280.8 150.5,1281.3 151.0,1280.6 151.5,1281.1 152.0,1280.7 152.5,1280.0 153.0,1281.1 153.5,1280.6 154.0,1281.3 154.5,1281.1 155.0,1280.9 155.5,1280.9 156.0,1281.1 156.5,1280.8 157.0,1281.3 157.5,1280.9 158.0,1281.0 158.5,1281.2 159.0,1281.4 159.5,1279.5 160.0,1280.9 160.5,1280.5 161.0,1281.4 161.5,1281.3 162.0,1280.9 162.5,1280.8 163.0,1280.6 163.5,1281.2 164.0,1281.0 164.5,1281.1 165.0,1281.1 165.5,1281.0 166.0,1280.5 166.5,1281.1 167.0,1280.7 167.5,1280.4 168.0,1281.3 168.5,1280.4 169.0,1280.6 169.5,1280.4 170.0,1280.3 170.5,1280.8 171.0,1280.6 171.5,1281.0 172.0,1280.3 172.5,1280.7 173.0,1281.4 173.5,1281.3 174.0,1281.4 174.5,1281.3 175.0,1281.1 175.5,1281.4 176.0,1280.3 176.5,1280.3 177.0,1281.2 177.5,1280.8 178.0,1281.3 178.5,1280.9 179.0,1281.4 179.5,1280.9 180.0,1280.3 180.5,1280.7 181.0,1281.0 181.5,1281.0 182.0,1281.3 182.5,1279.7 183.0,1280.9 183.5,1281.3 184.0,1280.4 184.5,1281.2 185.0,1281.2 185.5,1280.5 186.0,1280.5 186.5,1280.2 187.0,1281.4 187.5,1281.3 188.0,1280.3 188.5,1280.8 189.0,1279.6 189.5,1280.9 190.0,1280.6 190.5,1281.1 191.0,1280.8 191.5,1280.5 192.0,1280.6 192.5,1281.3 193.0,1281.2 193.5,1280.8 194.0,1281.1 194.5,1281.2 195.0,1280.9 195.5,1280.5 196.0,1281.4 196.5,1280.9 197.0,1280.5 197.5,1280.6 198.0,1281.1 198.5,1280.2 199.0,1280.5 199.5,1280.3 200.0,1281.3 200.5,1281.1 201.0,1280.1 201.5,1280.4 202.0,1281.0 202.5,1280.8 203.0,1281.3 203.5,1281.2 204.0,1280.3 204.5,1281.2 205.0,1280.6 205.5,1280.5 206.0,1281.2 206.5,1281.2 207.0,1280.5 207.5,1280.8 208.0,1281.1 208.5,1281.0 209.0,1281.0 209.5,1281.0 210.0,1281.0 210.5,1280.2 211.0,1281.2 211.5,1281.1 212.0,1281.0 212.5,1280.0 213.0,1281.2 213.5,1280.9 214.0,1280.4 214.5,1279.9 215.0,1279.6 215.5,1280.7 216.0,1280.8 216.5,1280.6 217.0,1280.8 217.5,1281.3 218.0,1280.6 218.5,1281.0 219.0,1280.9 219.5,1279.7 220.0,1279.5 220.5,1280.9 221.0,1280.2 221.5,1280.8 222.0,1280.4 222.5,1280.3 223.0,1280.4 223.5,1281.4 224.0,1280.6 224.5,1281.3 225.0,1279.9 225.5,1280.3 226.0,1281.4 226.5,1280.7 227.0,1281.3 227.5,1281.3 228.0,1280.1 228.5,1280.5 229.0,1281.4 229.5,1280.6 230.0,1280.9 230.5,1281.2 231.0,1280.8 231.5,1280.6 232.0,1281.2 232.5,1280.5 233.0,1281.3 233.5,1280.3 234.0,1280.9 234.5,1281.3 235.0,1280.8 235.5,1280.6 236.0,1280.6 236.5,1280.4 237.0,1279.8 237.5,1281.1 238.0,1280.9 238.5,1280.9 239.0,1281.2 239.5,1280.9 240.0,1281.2 240.5,1281.2 241.0,1281.0 241.5,1281.0 242.0,1281.1 242.5,1280.3 243.0,1281.1 243.5,1280.5 244.0,1281.3 244.5,1280.8 245.0,1281.4 245.5,1281.1 246.0,1280.5 246.5,1280.9 247.0,1280.8 247.5,1280.9 248.0,1280.3 248.5,1280.8 249.0,1281.2 249.5,1280.4 250.0,1280.4 250.5,1280.4 251.0,1281.0 251.5,1279.5 252.0,1279.6 252.5,1280.4 253.0,1280.7 253.5,1281.3 254.0,1281.3 254.5,1281.4 255.0,1280.4 255.5,1281.0 256.0,1281.1 256.5,1281.3 257.0,1280.6 257.5,1281.4 258.0,1279.8 258.5,1280.9 259.0,1281.2 259.5,1280.1 260.0,1280.6 260.5,1280.5 261.0,1280.8 261.5,1281.1 262.0,1281.4 262.5,1280.7 263.0,1281.2 263.5,1281.1 264.0,1281.1 264.5,1280.9 265.0,1281.0 265.5,1281.0 266.0,1280.8 266.5,1281.2 267.0,1281.4 267.5,1280.7 268.0,1279.6 268.5,1280.8 269.0,1281.4 269.5,1281.3 270.0,1280.8 270.5,1280.8 271.0,1280.7 271.5,1281.2 272.0,1281.1 272.5,1280.9 273.0,1281.2 273.5,1281.3 274.0,1280.6 274.5,1280.3 275.0,1281.1 275.5,1280.2 276.0,1280.9 276.5,1280.4 277.0,1281.3 277.5,1280.9 278.0,1279.6 278.5,1280.6 279.0,1280.6 279.5,1280.3 280.0,1281.1 280.5,1280.9 281.0,1280.6 281.5,1281.0 282.0,1281.1 282.5,1280.8 283.0,1281.0 283.5,1281.0 284.0,1281.3 284.5,1281.3 285.0,1281.1 285.5,1280.4 286.0,1280.0 286.5,1280.6 287.0,1280.9 287.5,1281.2 288.0,1281.4 288.5,1281.0 289.0,1281.1 289.5,1280.3 290.0,1280.9 290.5,1279.4 291.0,1280.1 291.5,1280.7 292.0,1281.2 292.5,1281.3 293.0,1280.5 293.5,1280.6 294.0,1281.3 294.5,1280.4 295.0,1281.3 295.5,1281.1 296.0,1281.3 296.5,1281.1 297.0,1280.3 297.5,1280.8 298.0,1280.8 298.5,1280.5 299.0,1281.0 299.5,1281.3 300.0,1279.6 300.5,1281.4 301.0,1280.7 301.5,1281.1 302.0,1280.3 302.5,1280.6 303.0,1280.7 303.5,1280.4 304.0,1281.3 304.5,1280.3 305.0,1281.2 305.5,1280.8 306.0,1281.4 306.5,1280.6 307.0,1280.8 307.5,1281.4 308.0,1281.4 308.5,1281.3 309.0,1281.0 309.5,1280.1 310.0,1281.4 310.5,1280.6 311.0,1281.1 311.5,1280.9 312.0,1281.0 312.5,1281.3 313.0,1281.0 313.5,1281.4 314.0,1280.3 314.5,1280.5 315.0,1280.9 315.5,1281.1 316.0,1281.2 316.5,1280.6 317.0,1281.0 317.5,1281.4 318.0,1279.9 318.5,1281.0 319.0,1281.2 319.5,1280.9 320.0,1281.1 320.5,1280.8 321.0,1281.4 321.5,1281.3 322.0,1280.0 322.5,1281.3 323.0,1281.2 323.5,1281.1 324.0,1280.3 324.5,1281.2 325.0,1281.4 325.5,1281.3 326.0,1280.6 326.5,1281.0 327.0,1280.6 327.5,1281.3 328.0,1280.5 328.5,1280.9 329.0,1281.1 329.5,1280.7 330.0,1281.1 330.5,1281.2 331.0,1281.3 331.5,1280.7 332.0,1279.9 332.5,1280.8 333.0,1280.7 333.5,1280.7 334.0,1280.8 334.5,1280.8 335.0,1281.2 335.5,1280.8 336.0,1281.3 336.5,1281.1 337.0,1280.9 337.5,1281.3 338.0,1280.3 338.5,1281.2 339.0,1281.0 339.5,1281.4 340.0,1280.8 340.5,1281.2 341.0,1280.8 341.5,1280.8 342.0,1281.3 342.5,1280.6 343.0,1281.1 343.5,1281.3 344.0,1280.7 344.5,1280.8 345.0,1281.1 345.5,1279.9 346.0,1281.1 346.5,1281.1 347.0,1281.0 347.5,1281.3 348.0,1281.0 348.5,1281.3 349.0,1280.0 349.5,1281.3 350.0,1280.4 350.5,1281.2 351.0,1281.0 351.5,1280.4 352.0,1281.3 352.5,1281.4 353.0,1281.2 353.5,1280.0 354.0,1280.8 354.5,1281.1 355.0,1281.1 355.5,1281.2 356.0,1281.3 356.5,1281.1 357.0,1280.5 357.5,1280.8 358.0,1281.2 358.5,1281.3 359.0,1281.2 359.5,1281.0 360.0,1280.8 360.5,1281.4 361.0,1280.6 361.5,1280.7 362.0,1280.4 362.5,1280.8 363.0,1281.1 363.5,1280.9 364.0,1280.4 364.5,1280.2 365.0,1280.5 365.5,1281.1 366.0,1281.2 366.5,1281.1 367.0,1281.3 367.5,1280.0 368.0,1281.1 368.5,1280.4 369.0,1281.0 369.5,1281.1 370.0,1280.6 370.5,1280.5 371.0,1280.7 371.5,1281.4 372.0,1281.0 372.5,1281.0 373.0,1280.7 373.5,1280.9 374.0,1280.8 374.5,1281.1 375.0,1280.0 375.5,1280.6 376.0,1281.1 376.5,1280.9 377.0,1281.2 377.5,1280.7 378.0,1281.2 378.5,1280.7 379.0,1281.3 379.5,1280.5 380.0,1280.5 380.5,1281.3 381.0,1280.4 381.5,1281.3 382.0,1281.3 382.5,1280.7 383.0,1281.2 383.5,1280.8 384.0,1280.5 384.5,1280.9 385.0,1281.1 385.5,1281.2 386.0,1279.9 386.5,1281.3 387.0,1280.9 387.5,1280.8 388.0,1281.3 388.5,1279.7 389.0,1280.9 389.5,1280.9 390.0,1280.7 390.5,1280.1 391.0,1280.8 391.5,1281.1 392.0,1280.7 392.5,1280.7 393.0,1280.9 393.5,1279.7 394.0,1280.7 394.5,1280.8 395.0,1281.0 395.5,1280.5 396.0,1280.4 396.5,1280.0 397.0,1280.7 397.5,1279.9 398.0,1280.3 398.5,1280.3 399.0,1280.4 399.5,1280.1 400.0,1280.2 400.5,1280.6 401.0,1279.7 401.5,1279.5 402.0,1279.6 402.5,1279.6 403.0,1278.1 403.5,1278.7 404.0,1275.8 404.5,1267.8 405.0,1246.5 405.5,1206.5 406.0,1148.3 406.5,1098.4 407.0,1092.0 407.5,1137.0 408.0,1195.6 408.5,1240.5 409.0,1265.3 409.5,1274.3 410.0,1277.8 410.5,1278.3 411.0,1278.3 411.5,1275.9 412.0,1268.6 412.5,1257.0 413.0,1242.5 413.5,1236.5 414.0,1243.2 414.5,1257.5 415.0,1269.2 415.5,1276.4 416.0,1278.9 416.5,1279.8 417.0,1280.0 417.5,1279.4 418.0,1280.3 418.5,1280.5 419.0,1280.9 419.5,1280.2 420.0,1280.2 420.5,1280.4 421.0,1281.0 421.5,1281.0 422.0,1279.7 422.5,1280.7 423.0,1280.5 423.5,1280.6 424.0,1280.8 424.5,1281.2 425.0,1280.3 425.5,1280.1 426.0,1280.7 426.5,1281.2 427.0,1281.2 427.5,1280.4 428.0,1281.0 428.5,1280.7 429.0,1280.8 429.5,1280.6 430.0,1280.8 430.5,1281.1 431.0,1280.1 431.5,1281.1 432.0,1281.3 432.5,1279.8 433.0,1281.1 433.5,1280.8 434.0,1280.9 434.5,1280.6 435.0,1280.6 435.5,1280.6 436.0,1281.0 436.5,1281.0 437.0,1281.3 437.5,1281.4 438.0,1280.7 438.5,1281.0 439.0,1280.0 439.5,1281.1 440.0,1281.1 440.5,1281.2 441.0,1281.2 441.5,1280.6 442.0,1281.0 442.5,1281.3 443.0,1281.0 443.5,1280.5 444.0,1280.6 444.5,1281.2 445.0,1280.7 445.5,1281.4 446.0,1280.7 446.5,1280.7 447.0,1280.3 447.5,1281.2 448.0,1280.7 448.5,1280.7 449.0,1281.2 449.5,1280.6 450.0,1281.4 450.5,1280.6 451.0,1280.8 451.5,1280.9 452.0,1281.1 452.5,1281.1 453.0,1281.2 453.5,1281.3 454.0,1280.7 454.5,1281.1 455.0,1280.2 455.5,1281.3 456.0,1280.7 456.5,1281.3 457.0,1281.2 457.5,1280.0 458.0,1281.2 458.5,1280.5 459.0,1280.9 459.5,1281.2 460.0,1279.9 460.5,1281.3 461.0,1280.8 461.5,1280.7 462.0,1281.2 462.5,1281.0 463.0,1280.2 463.5,1280.9 464.0,1281.0 464.5,1281.2 465.0,1280.7 465.5,1281.4 466.0,1281.2 466.5,1279.8 467.0,1281.0 467.5,1281.0 468.0,1281.1 468.5,1280.5 469.0,1280.4 469.5,1281.2 470.0,1280.7 470.5,1280.5 471.0,1281.1 471.5,1280.9 472.0,1281.2 472.5,1281.4 473.0,1281.4 473.5,1281.4 474.0,1280.7 474.5,1281.3 475.0,1281.3 475.5,1281.2 476.0,1281.2 476.5,1280.8 477.0,1281.1 477.5,1281.4 478.0,1281.0 478.5,1281.3 479.0,1281.0 479.5,1280.1 480.0,1280.5 480.5,1281.1 481.0,1281.4 481.5,1279.9 482.0,1281.2 482.5,1281.4 483.0,1281.2 483.5,1281.2 484.0,1280.5 484.5,1281.4 485.0,1280.0 485.5,1280.8 486.0,1280.9 486.5,1280.7 487.0,1280.2 487.5,1281.2 488.0,1281.4 488.5,1280.8 489.0,1280.6 489.5,1280.7 490.0,1281.2 490.5,1280.5 491.0,1281.3 491.5,1281.3 492.0,1281.2 492.5,1280.9 493.0,1281.1 493.5,1280.9 494.0,1281.0 494.5,1280.4 495.0,1280.1 495.5,1281.3 496.0,1281.1 496.5,1281.1 497.0,1280.8 497.5,1281.3 498.0,1280.7 498.5,1280.9 499.0,1281.3 499.5,1281.3 500.0,1281.1 500.5,1281.2 501.0,1280.3 501.5,1281.0 502.0,1281.2 502.5,1281.3 503.0,1280.7 503.5,1280.6 504.0,1280.6 504.5,1280.9 505.0,1280.3 505.5,1280.4 506.0,1280.9 506.5,1280.6 507.0,1280.9 507.5,1281.0 508.0,1280.3 508.5,1281.3 509.0,1280.5 509.5,1280.5 510.0,1280.7 510.5,1280.9 511.0,1281.3 511.5,1280.9 512.0,1280.8 512.5,1281.1 513.0,1281.3 513.5,1280.7 514.0,1280.1 514.5,1280.8 515.0,1280.4 515.5,1281.1 516.0,1280.5 516.5,1280.1 517.0,1277.4 517.5,1273.4 518.0,1267.5 518.5,1263.1 519.0,1264.5 519.5,1271.5 520.0,1276.8 520.5,1277.6 521.0,1279.9 521.5,1277.8 522.0,1275.6 522.5,1267.0 523.0,1247.9 523.5,1222.5 524.0,1202.6 524.5,1205.3 525.0,1228.2 525.5,1252.7 526.0,1269.1 526.5,1276.8 527.0,1279.4 527.5,1279.5 528.0,1280.2 528.5,1280.5 529.0,1279.9 529.5,1281.0 530.0,1280.6 530.5,1280.9 531.0,1281.0 531.5,1280.5 532.0,1280.4 532.5,1280.5 533.0,1281.1 533.5,1280.1 534.0,1280.6 534.5,1280.7 535.0,1280.2 535.5,1281.1 536.0,1280.5 536.5,1280.9 537.0,1281.2 537.5,1281.4 538.0,1281.1 538.5,1280.3 539.0,1280.7 539.5,1280.5 540.0,1280.6 540.5,1280.5 541.0,1281.1 541.5,1280.9 542.0,1279.8 542.5,1280.8 543.0,1281.3 543.5,1281.1 544.0,1280.0 544.5,1281.3 545.0,1280.9 545.5,1281.3 546.0,1280.7 546.5,1280.9 547.0,1281.1 547.5,1281.0 548.0,1281.1 548.5,1280.3 549.0,1280.8 549.5,1280.9 550.0,1281.0 550.5,1281.1 551.0,1280.4 551.5,1281.4 552.0,1280.1 552.5,1280.8 553.0,1281.2 553.5,1280.5 554.0,1281.2 554.5,1281.1 555.0,1280.4 555.5,1281.0 556.0,1281.4 556.5,1281.2 557.0,1280.9 557.5,1280.6 558.0,1281.4 558.5,1280.2 559.0,1281.3 559.5,1281.4 560.0,1281.0 560.5,1280.7 561.0,1280.5 561.5,1280.1 562.0,1280.5 562.5,1280.4 563.0,1281.0 563.5,1281.2 564.0,1280.6 564.5,1280.7 565.0,1280.2 565.5,1280.8 566.0,1281.2 566.5,1280.7 567.0,1281.2 567.5,1280.1 568.0,1281.0 568.5,1281.0 569.0,1280.6 569.5,1280.0 570.0,1280.9 570.5,1279.9 571.0,1281.3 571.5,1281.3 572.0,1280.1 572.5,1281.2 573.0,1281.4 573.5,1281.0 574.0,1280.3 574.5,1281.4 575.0,1280.7 575.5,1281.1 576.0,1281.2 576.5,1281.4 577.0,1281.4 577.5,1280.8 578.0,1280.6 578.5,1280.5 579.0,1280.6 579.5,1280.8 580.0,1281.4 580.5,1280.9 581.0,1281.3 581.5,1281.1 582.0,1280.9 582.5,1281.2 583.0,1280.7 583.5,1281.0 584.0,1281.3 584.5,1280.4 585.0,1280.9 585.5,1281.3 586.0,1281.1 586.5,1280.6 587.0,1280.9 587.5,1279.5 588.0,1281.4 588.5,1280.4 589.0,1280.7 589.5,1279.7 590.0,1281.1 590.5,1281.4 591.0,1281.2 591.5,1281.2 592.0,1281.0 592.5,1280.5 593.0,1280.7 593.5,1280.4 594.0,1280.8 594.5,1281.2 595.0,1280.6 595.5,1280.9 596.0,1280.8 596.5,1280.9 597.0,1281.1 597.5,1281.4 598.0,1280.6 598.5,1280.5 599.0,1281.1 599.5,1281.0 600.0,1281.0 600.5,1281.1 601.0,1280.4 601.5,1281.1 602.0,1280.8 602.5,1281.0 603.0,1280.2 603.5,1280.1 604.0,1280.6 604.5,1281.2 605.0,1281.2 605.5,1280.8 606.0,1280.2 606.5,1281.2 607.0,1281.0 607.5,1281.1 608.0,1280.4 608.5,1280.4 609.0,1281.2 609.5,1281.3 610.0,1280.9 610.5,1280.9 611.0,1280.7 611.5,1281.1 612.0,1281.4 612.5,1281.3 613.0,1280.5 613.5,1281.2 614.0,1280.8 614.5,1281.3 615.0,1280.2 615.5,1281.0 616.0,1281.2 616.5,1280.3 617.0,1280.5 617.5,1280.3 618.0,1280.9 618.5,1280.9 619.0,1281.4 619.5,1281.0 620.0,1281.4 620.5,1280.5 621.0,1281.0 621.5,1281.2 622.0,1280.9 622.5,1280.8 623.0,1280.7 623.5,1280.7 624.0,1280.5 624.5,1280.5 625.0,1281.1 625.5,1279.7 626.0,1280.7 626.5,1280.8 627.0,1281.2 627.5,1280.7 628.0,1281.2 628.5,1281.3 629.0,1281.0 629.5,1280.1 630.0,1280.1 630.5,1281.2 631.0,1281.2 631.5,1281.0 632.0,1281.3 632.5,1280.8 633.0,1281.3 633.5,1281.1 634.0,1281.0 634.5,1280.0 635.0,1280.4 635.5,1279.9 636.0,1280.8 636.5,1280.7 637.0,1280.5 637.5,1281.3 638.0,1280.9 638.5,1281.0 639.0,1280.8 639.5,1280.9 640.0,1281.3 640.5,1280.1 641.0,1281.3 641.5,1281.4 642.0,1280.9 642.5,1280.9 643.0,1280.1 643.5,1280.6 644.0,1280.7 644.5,1280.9 645.0,1280.6 645.5,1280.0 646.0,1281.2 646.5,1280.9 647.0,1281.1 647.5,1280.7 648.0,1280.8 648.5,1280.4 649.0,1280.5 649.5,1281.4 650.0,1281.0 650.5,1280.9 651.0,1280.4 651.5,1280.7 652.0,1280.6 652.5,1281.2 653.0,1280.9 653.5,1281.3 654.0,1281.3 654.5,1280.7 655.0,1280.3 655.5,1280.8 656.0,1280.4 656.5,1280.1 657.0,1280.9 657.5,1280.6 658.0,1281.0 658.5,1281.2 659.0,1280.8 659.5,1279.8 660.0,1278.8 660.5,1278.2 661.0,1276.9 661.5,1276.3 662.0,1277.7 662.5,1279.1 663.0,1279.6 663.5,1281.0 664.0,1281.0 664.5,1281.3 665.0,1281.3 665.5,1280.9 666.0,1281.1 666.5,1280.9 667.0,1281.0 667.5,1280.5 668.0,1280.3 668.5,1281.1 669.0,1281.1 669.5,1281.3 670.0,1281.1 670.5,1281.1 671.0,1280.9 671.5,1281.3 672.0,1280.6 672.5,1280.5 673.0,1280.7 673.5,1281.0 674.0,1280.9 674.5,1280.9 675.0,1280.7 675.5,1281.3 676.0,1280.9 676.5,1281.2 677.0,1280.9 677.5,1281.3 678.0,1281.3 678.5,1281.4 679.0,1281.0 679.5,1278.9 680.0,1281.4 680.5,1280.1 681.0,1281.3 681.5,1280.7 682.0,1281.2 682.5,1281.2 683.0,1281.3 683.5,1281.3 684.0,1281.0 684.5,1281.0 685.0,1280.8 685.5,1280.6 686.0,1281.4 686.5,1280.8 687.0,1281.3 687.5,1281.4 688.0,1281.3 688.5,1281.1 689.0,1280.9 689.5,1281.3 690.0,1281.0 690.5,1280.9 691.0,1280.3 691.5,1281.2 692.0,1281.2 692.5,1280.4 693.0,1280.7 693.5,1281.1 694.0,1281.2 694.5,1279.8 695.0,1281.2 695.5,1281.1 696.0,1281.3 696.5,1280.5 697.0,1280.5 697.5,1281.1 698.0,1281.2 698.5,1281.3 699.0,1280.6 699.5,1280.4 700.0,1281.2 700.5,1280.4 701.0,1280.8 701.5,1280.6 702.0,1279.5 702.5,1280.8 703.0,1281.0 703.5,1280.8 704.0,1279.1 704.5,1281.0 705.0,1281.3 705.5,1280.8 706.0,1281.0 706.5,1281.0 707.0,1281.3 707.5,1281.0 708.0,1280.4 708.5,1280.7 709.0,1281.1 709.5,1280.5 710.0,1280.3 710.5,1280.5 711.0,1280.9 711.5,1280.6 712.0,1281.3 712.5,1281.3 713.0,1281.4 713.5,1281.3 714.0,1281.1 714.5,1281.2 715.0,1280.8 715.5,1281.3 716.0,1281.2 716.5,1281.3 717.0,1281.1 717.5,1280.9 718.0,1281.2 718.5,1281.2 719.0,1281.2 719.5,1280.4 720.0,1280.8 720.5,1280.7 721.0,1281.0 721.5,1281.1 722.0,1280.3 722.5,1280.8 723.0,1281.1 723.5,1280.9 724.0,1280.6 724.5,1280.9 725.0,1281.3 725.5,1281.2 726.0,1281.1 726.5,1281.2 727.0,1280.9 727.5,1281.4 728.0,1281.0 728.5,1281.4 729.0,1281.1 729.5,1280.7" fill="none" stroke="#0a5fc3" stroke-width="2.5" stroke-linejoin="round" />
<polyline points="127.0,1169.8 127.5,1169.6 128.0,1170.0 128.5,1170.4 129.0,1170.1 129.5,1170.5 130.0,1169.8 130.5,1169.0 131.0,1170.1 131.5,1170.2 132.0,1169.5 132.5,1169.6 133.0,1169.8 133.5,1170.4 134.0,1169.9 134.5,1169.4 135.0,1170.7 135.5,1170.1 136.0,1171.0 136.5,1170.6 137.0,1171.0 137.5,1170.0 138.0,1170.6 138.5,1169.7 139.0,1169.7 139.5,1169.9 140.0,1171.4 140.5,1170.2 141.0,1169.9 141.5,1169.8 142.0,1170.8 142.5,1170.1 143.0,1170.4 143.5,1170.3 144.0,1169.2 144.5,1170.3 145.0,1169.9 145.5,1169.3 146.0,1170.2 146.5,1169.9 147.0,1169.8 147.5,1169.8 148.0,1170.6 148.5,1169.8 149.0,1169.0 149.5,1170.8 150.0,1169.3 150.5,1169.8 151.0,1170.2 151.5,1168.6 152.0,1169.4 152.5,1170.6 153.0,1169.8 153.5,1169.5 154.0,1170.0 154.5,1169.4 155.0,1169.9 155.5,1169.4 156.0,1168.9 156.5,1170.3 157.0,1169.7 157.5,1170.1 158.0,1169.8 158.5,1170.6 159.0,1170.2 159.5,1170.0 160.0,1169.3 160.5,1169.1 161.0,1170.7 161.5,1170.3 162.0,1169.4 162.5,1171.1 163.0,1170.1 163.5,1169.9 164.0,1169.1 164.5,1169.4 165.0,1170.0 165.5,1170.1 166.0,1170.0 166.5,1168.9 167.0,1170.1 167.5,1170.0 168.0,1169.6 168.5,1169.9 169.0,1170.0 169.5,1170.5 170.0,1169.8 170.5,1170.1 171.0,1169.1 171.5,1169.4 172.0,1169.8 172.5,1169.4 173.0,1170.0 173.5,1169.2 174.0,1169.8 174.5,1169.5 175.0,1170.6 175.5,1169.6 176.0,1170.9 176.5,1171.1 177.0,1170.0 177.5,1170.4 178.0,1169.7 178.5,1168.4 179.0,1170.3 179.5,1170.2 180.0,1169.7 180.5,1169.5 181.0,1169.9 181.5,1170.0 182.0,1169.4 182.5,1169.5 183.0,1170.5 183.5,1169.9 184.0,1169.8 184.5,1170.5 185.0,1169.7 185.5,1170.4 186.0,1169.2 186.5,1169.7 187.0,1169.8 187.5,1170.2 188.0,1169.9 188.5,1171.1 189.0,1170.5 189.5,1169.6 190.0,1171.1 190.5,1169.3 191.0,1170.9 191.5,1169.4 192.0,1170.3 192.5,1169.3 193.0,1169.7 193.5,1170.8 194.0,1169.0 194.5,1168.9 195.0,1169.9 195.5,1170.0 196.0,1169.9 196.5,1170.4 197.0,1169.1 197.5,1170.2 198.0,1169.8 198.5,1170.3 199.0,1170.2 199.5,1170.6 200.0,1169.0 200.5,1169.9 201.0,1169.2 201.5,1169.8 202.0,1170.2 202.5,1170.0 203.0,1170.2 203.5,1169.8 204.0,1170.0 204.5,1170.0 205.0,1170.7 205.5,1170.3 206.0,1168.8 206.5,1170.2 207.0,1170.4 207.5,1169.6 208.0,1168.9 208.5,1170.7 209.0,1169.9 209.5,1170.1 210.0,1170.8 210.5,1169.3 211.0,1169.7 211.5,1169.7 212.0,1170.2 212.5,1169.4 213.0,1170.0 213.5,1169.7 214.0,1170.2 214.5,1170.0 215.0,1167.9 215.5,1167.9 216.0,1165.2 216.5,1162.1 217.0,1158.2 217.5,1154.5 218.0,1152.1 218.5,1153.8 219.0,1156.3 219.5,1157.4 220.0,1154.4 220.5,1148.9 221.0,1142.8 221.5,1141.6 222.0,1147.3 222.5,1154.0 223.0,1161.2 223.5,1166.4 224.0,1168.0 224.5,1168.7 225.0,1168.9 225.5,1169.0 226.0,1169.9 226.5,1168.7 227.0,1170.4 227.5,1169.1 228.0,1169.4 228.5,1169.2 229.0,1168.6 229.5,1168.8 230.0,1170.5 230.5,1170.8 231.0,1169.3 231.5,1170.4 232.0,1169.8 232.5,1169.3 233.0,1170.8 233.5,1171.1 234.0,1169.6 234.5,1169.8 235.0,1170.0 235.5,1169.8 236.0,1170.3 236.5,1170.7 237.0,1169.9 237.5,1170.4 238.0,1170.8 238.5,1169.5 239.0,1169.9 239.5,1169.6 240.0,1170.4 240.5,1170.2 241.0,1170.4 241.5,1170.4 242.0,1169.7 242.5,1170.3 243.0,1169.6 243.5,1169.6 244.0,1168.6 244.5,1170.7 245.0,1169.3 245.5,1169.9 246.0,1169.8 246.5,1170.7 247.0,1170.1 247.5,1169.4 248.0,1169.9 248.5,1169.8 249.0,1170.0 249.5,1169.1 250.0,1169.8 250.5,1171.2 251.0,1170.3 251.5,1171.1 252.0,1171.8 252.5,1170.2 253.0,1169.0 253.5,1169.8 254.0,1170.6 254.5,1170.4 255.0,1169.1 255.5,1169.7 256.0,1169.8 256.5,1169.9 257.0,1169.8 257.5,1169.3 258.0,1169.5 258.5,1169.7 259.0,1170.5 259.5,1169.5 260.0,1170.3 260.5,1169.1 261.0,1170.6 261.5,1169.9 262.0,1169.8 262.5,1170.7 263.0,1168.8 263.5,1168.9 264.0,1170.1 264.5,1169.4 265.0,1169.6 265.5,1171.5 266.0,1169.7 266.5,1169.9 267.0,1169.8 267.5,1170.5 268.0,1170.0 268.5,1169.9 269.0,1169.1 269.5,1169.6 270.0,1169.8 270.5,1168.9 271.0,1170.2 271.5,1170.1 272.0,1171.0 272.5,1168.9 273.0,1169.2 273.5,1169.3 274.0,1169.4 274.5,1169.8 275.0,1169.7 275.5,1170.0 276.0,1170.0 276.5,1169.8 277.0,1168.9 277.5,1169.5 278.0,1169.9 278.5,1170.2 279.0,1170.2 279.5,1168.8 280.0,1169.5 280.5,1169.8 281.0,1170.0 281.5,1170.5 282.0,1169.9 282.5,1169.3 283.0,1170.1 283.5,1170.0 284.0,1170.0 284.5,1169.8 285.0,1170.8 285.5,1170.0 286.0,1170.4 286.5,1169.3 287.0,1170.3 287.5,1169.5 288.0,1168.9 288.5,1170.0 289.0,1170.2 289.5,1169.7 290.0,1169.8 290.5,1170.5 291.0,1169.5 291.5,1168.6 292.0,1170.0 292.5,1170.0 293.0,1170.5 293.5,1169.6 294.0,1170.6 294.5,1170.5 295.0,1169.0 295.5,1170.4 296.0,1169.2 296.5,1168.9 297.0,1169.7 297.5,1169.5 298.0,1168.6 298.5,1170.0 299.0,1170.2 299.5,1170.7 300.0,1169.8 300.5,1168.9 301.0,1169.2 301.5,1170.4 302.0,1170.4 302.5,1170.1 303.0,1169.7 303.5,1170.0 304.0,1169.7 304.5,1169.6 305.0,1170.0 305.5,1169.9 306.0,1169.7 306.5,1169.9 307.0,1169.5 307.5,1168.7 308.0,1169.5 308.5,1169.8 309.0,1170.9 309.5,1169.6 310.0,1171.0 310.5,1170.7 311.0,1169.3 311.5,1169.4 312.0,1169.9 312.5,1170.9 313.0,1170.1 313.5,1170.3 314.0,1169.4 314.5,1168.4 315.0,1169.7 315.5,1170.3 316.0,1170.6 316.5,1169.9 317.0,1169.9 317.5,1170.5 318.0,1169.8 318.5,1170.5 319.0,1169.1 319.5,1169.2 320.0,1169.2 320.5,1170.1 321.0,1169.5 321.5,1169.9 322.0,1170.1 322.5,1170.0 323.0,1170.6 323.5,1170.7 324.0,1169.3 324.5,1170.0 325.0,1169.7 325.5,1169.2 326.0,1170.9 326.5,1170.3 327.0,1169.7 327.5,1169.6 328.0,1170.1 328.5,1169.2 329.0,1169.7 329.5,1170.6 330.0,1170.4 330.5,1169.3 331.0,1169.5 331.5,1171.0 332.0,1169.0 332.5,1169.5 333.0,1169.0 333.5,1170.1 334.0,1170.0 334.5,1170.5 335.0,1168.3 335.5,1169.9 336.0,1168.8 336.5,1170.2 337.0,1169.7 337.5,1170.9 338.0,1170.1 338.5,1169.2 339.0,1170.6 339.5,1169.2 340.0,1169.6 340.5,1170.5 341.0,1170.1 341.5,1170.1 342.0,1169.9 342.5,1170.2 343.0,1170.3 343.5,1170.0 344.0,1170.5 344.5,1170.6 345.0,1169.9 345.5,1169.3 346.0,1170.8 346.5,1169.8 347.0,1170.2 347.5,1170.4 348.0,1169.3 348.5,1170.2 349.0,1168.9 349.5,1170.3 350.0,1169.6 350.5,1170.0 351.0,1170.3 351.5,1169.5 352.0,1169.9 352.5,1169.5 353.0,1169.9 353.5,1170.5 354.0,1169.9 354.5,1169.8 355.0,1169.2 355.5,1170.4 356.0,1169.9 356.5,1170.9 357.0,1169.4 357.5,1170.5 358.0,1171.0 358.5,1169.9 359.0,1169.1 359.5,1170.8 360.0,1170.5 360.5,1170.3 361.0,1170.5 361.5,1169.6 362.0,1170.3 362.5,1170.3 363.0,1169.5 363.5,1170.3 364.0,1169.6 364.5,1170.4 365.0,1170.6 365.5,1171.0 366.0,1168.7 366.5,1170.0 367.0,1169.7 367.5,1169.8 368.0,1169.7 368.5,1169.8 369.0,1168.6 369.5,1170.5 370.0,1170.8 370.5,1170.5 371.0,1170.7 371.5,1169.4 372.0,1169.3 372.5,1170.4 373.0,1170.7 373.5,1170.0 374.0,1169.0 374.5,1171.6 375.0,1169.5 375.5,1170.5 376.0,1169.2 376.5,1170.5 377.0,1170.0 377.5,1170.8 378.0,1170.4 378.5,1169.0 379.0,1169.3 379.5,1170.1 380.0,1170.4 380.5,1171.0 381.0,1170.1 381.5,1169.8 382.0,1169.9 382.5,1169.9 383.0,1170.5 383.5,1169.9 384.0,1169.8 384.5,1169.0 385.0,1168.7 385.5,1169.9 386.0,1170.3 386.5,1169.9 387.0,1170.2 387.5,1170.3 388.0,1169.9 388.5,1170.5 389.0,1169.4 389.5,1169.9 390.0,1169.7 390.5,1169.9 391.0,1170.3 391.5,1170.4 392.0,1170.0 392.5,1170.1 393.0,1169.7 393.5,1169.8 394.0,1170.6 394.5,1169.8 395.0,1170.6 395.5,1170.2 396.0,1170.0 396.5,1171.1 397.0,1169.7 397.5,1169.7 398.0,1169.9 398.5,1170.0 399.0,1170.0 399.5,1170.3 400.0,1169.9 400.5,1170.0 401.0,1169.6 401.5,1170.4 402.0,1169.5 402.5,1169.5 403.0,1169.6 403.5,1169.6 404.0,1168.5 404.5,1168.5 405.0,1163.3 405.5,1155.9 406.0,1145.3 406.5,1135.9 407.0,1135.5 407.5,1143.4 408.0,1153.7 408.5,1162.1 409.0,1166.7 409.5,1169.5 410.0,1168.8 410.5,1168.5 411.0,1168.3 411.5,1167.8 412.0,1166.4 412.5,1160.8 413.0,1157.2 413.5,1157.3 414.0,1158.4 414.5,1164.1 415.0,1167.6 415.5,1169.0 416.0,1168.6 416.5,1169.8 417.0,1169.5 417.5,1168.6 418.0,1168.7 418.5,1169.8 419.0,1169.9 419.5,1170.5 420.0,1170.2 420.5,1169.5 421.0,1169.5 421.5,1169.7 422.0,1169.2 422.5,1170.3 423.0,1169.8 423.5,1169.3 424.0,1169.4 424.5,1169.1 425.0,1169.6 425.5,1170.0 426.0,1169.6 426.5,1170.4 427.0,1170.8 427.5,1169.5 428.0,1169.8 428.5,1169.6 429.0,1170.9 429.5,1170.0 430.0,1170.2 430.5,1170.4 431.0,1171.2 431.5,1170.0 432.0,1169.3 432.5,1169.6 433.0,1170.2 433.5,1169.8 434.0,1169.4 434.5,1171.5 435.0,1169.9 435.5,1169.5 436.0,1169.4 436.5,1168.8 437.0,1169.1 437.5,1169.6 438.0,1169.6 438.5,1169.3 439.0,1170.2 439.5,1169.9 440.0,1169.3 440.5,1168.6 441.0,1169.9 441.5,1169.9 442.0,1169.7 442.5,1169.0 443.0,1169.8 443.5,1168.9 444.0,1170.4 444.5,1169.9 445.0,1170.0 445.5,1169.3 446.0,1169.2 446.5,1170.8 447.0,1170.4 447.5,1169.6 448.0,1170.2 448.5,1170.8 449.0,1169.2 449.5,1169.5 450.0,1169.5 450.5,1170.1 451.0,1169.2 451.5,1170.0 452.0,1169.1 452.5,1170.4 453.0,1170.4 453.5,1169.7 454.0,1170.3 454.5,1169.4 455.0,1169.7 455.5,1170.4 456.0,1169.8 456.5,1170.0 457.0,1169.3 457.5,1170.2 458.0,1170.1 458.5,1169.1 459.0,1168.4 459.5,1168.6 460.0,1169.8 460.5,1169.7 461.0,1168.9 461.5,1169.9 462.0,1170.4 462.5,1169.8 463.0,1169.5 463.5,1170.3 464.0,1170.9 464.5,1170.7 465.0,1169.4 465.5,1170.3 466.0,1169.9 466.5,1169.7 467.0,1169.4 467.5,1170.0 468.0,1169.5 468.5,1170.4 469.0,1170.1 469.5,1170.5 470.0,1169.1 470.5,1169.8 471.0,1170.3 471.5,1170.0 472.0,1170.0 472.5,1169.4 473.0,1170.8 473.5,1170.5 474.0,1170.1 474.5,1168.3 475.0,1169.2 475.5,1169.9 476.0,1169.4 476.5,1168.6 477.0,1170.0 477.5,1170.1 478.0,1169.1 478.5,1169.5 479.0,1169.4 479.5,1170.1 480.0,1168.6 480.5,1168.8 481.0,1169.5 481.5,1169.4 482.0,1171.1 482.5,1169.4 483.0,1169.9 483.5,1169.6 484.0,1169.4 484.5,1170.0 485.0,1170.9 485.5,1169.6 486.0,1170.3 486.5,1170.0 487.0,1170.2 487.5,1170.0 488.0,1171.3 488.5,1169.1 489.0,1169.7 489.5,1169.1 490.0,1168.6 490.5,1169.8 491.0,1170.9 491.5,1170.4 492.0,1170.6 492.5,1170.1 493.0,1169.8 493.5,1171.1 494.0,1169.6 494.5,1170.8 495.0,1169.6 495.5,1169.9 496.0,1170.0 496.5,1169.9 497.0,1170.2 497.5,1170.2 498.0,1170.9 498.5,1169.8 499.0,1168.7 499.5,1168.6 500.0,1169.0 500.5,1169.4 501.0,1170.2 501.5,1168.9 502.0,1169.9 502.5,1169.9 503.0,1170.0 503.5,1169.8 504.0,1170.1 504.5,1169.9 505.0,1170.5 505.5,1170.0 506.0,1168.4 506.5,1169.9 507.0,1170.0 507.5,1169.5 508.0,1169.4 508.5,1170.5 509.0,1169.9 509.5,1169.2 510.0,1169.6 510.5,1169.7 511.0,1168.8 511.5,1170.2 512.0,1169.7 512.5,1170.1 513.0,1168.8 513.5,1171.0 514.0,1170.2 514.5,1170.1 515.0,1169.3 515.5,1169.3 516.0,1168.7 516.5,1170.1 517.0,1167.4 517.5,1165.5 518.0,1162.7 518.5,1160.9 519.0,1163.9 519.5,1167.6 520.0,1168.5 520.5,1169.7 521.0,1168.6 521.5,1165.3 522.0,1159.2 522.5,1148.1 523.0,1138.6 523.5,1136.0 524.0,1142.8 524.5,1154.2 525.0,1163.2 525.5,1166.8 526.0,1169.2 526.5,1170.6 527.0,1169.1 527.5,1169.6 528.0,1169.4 528.5,1169.6 529.0,1169.3 529.5,1169.7 530.0,1169.0 530.5,1169.5 531.0,1169.5 531.5,1169.5 532.0,1170.7 532.5,1169.9 533.0,1169.9 533.5,1169.6 534.0,1170.6 534.5,1168.8 535.0,1169.7 535.5,1170.5 536.0,1170.8 536.5,1170.0 537.0,1169.8 537.5,1170.2 538.0,1169.7 538.5,1170.2 539.0,1169.4 539.5,1170.2 540.0,1169.8 540.5,1169.2 541.0,1168.2 541.5,1170.4 542.0,1170.1 542.5,1170.3 543.0,1169.3 543.5,1170.5 544.0,1170.1 544.5,1169.8 545.0,1170.3 545.5,1170.3 546.0,1170.0 546.5,1171.0 547.0,1170.6 547.5,1169.9 548.0,1169.5 548.5,1169.6 549.0,1170.4 549.5,1169.1 550.0,1167.4 550.5,1166.1 551.0,1164.1 551.5,1161.5 552.0,1157.0 552.5,1154.3 553.0,1152.3 553.5,1151.9 554.0,1152.4 554.5,1156.5 555.0,1159.5 555.5,1163.8 556.0,1165.4 556.5,1168.1 557.0,1168.8 557.5,1167.6 558.0,1169.0 558.5,1169.9 559.0,1169.7 559.5,1169.5 560.0,1168.9 560.5,1170.0 561.0,1170.8 561.5,1169.9 562.0,1169.7 562.5,1169.7 563.0,1168.9 563.5,1169.6 564.0,1169.3 564.5,1170.5 565.0,1169.2 565.5,1168.5 566.0,1169.3 566.5,1169.6 567.0,1169.7 567.5,1168.6 568.0,1170.3 568.5,1169.7 569.0,1169.3 569.5,1168.8 570.0,1169.0 570.5,1167.8 571.0,1167.3 571.5,1166.5 572.0,1166.6 572.5,1167.7 573.0,1167.8 573.5,1168.0 574.0,1169.8 574.5,1169.7 575.0,1169.3 575.5,1170.4 576.0,1169.7 576.5,1170.4 577.0,1169.1 577.5,1168.4 578.0,1168.5 578.5,1169.9 579.0,1169.3 579.5,1169.7 580.0,1169.7 580.5,1168.9 581.0,1170.6 581.5,1169.2 582.0,1169.8 582.5,1168.9 583.0,1169.7 583.5,1170.2 584.0,1169.6 584.5,1169.4 585.0,1169.8 585.5,1169.5 586.0,1170.1 586.5,1171.1 587.0,1169.3 587.5,1169.4 588.0,1169.7 588.5,1169.8 589.0,1169.2 589.5,1170.1 590.0,1170.3 590.5,1169.9 591.0,1169.1 591.5,1170.7 592.0,1169.1 592.5,1170.2 593.0,1170.5 593.5,1169.0 594.0,1169.9 594.5,1170.6 595.0,1170.0 595.5,1169.2 596.0,1169.1 596.5,1170.1 597.0,1169.6 597.5,1169.4 598.0,1170.2 598.5,1169.6 599.0,1169.8 599.5,1170.2 600.0,1170.1 600.5,1169.8 601.0,1169.8 601.5,1170.2 602.0,1170.1 602.5,1169.1 603.0,1169.7 603.5,1169.3 604.0,1169.1 604.5,1169.5 605.0,1168.4 605.5,1170.3 606.0,1169.3 606.5,1170.0 607.0,1168.7 607.5,1168.8 608.0,1171.0 608.5,1170.4 609.0,1169.4 609.5,1169.3 610.0,1169.4 610.5,1169.9 611.0,1169.5 611.5,1169.4 612.0,1169.9 612.5,1169.2 613.0,1171.2 613.5,1169.4 614.0,1170.5 614.5,1169.2 615.0,1170.0 615.5,1170.4 616.0,1169.6 616.5,1170.4 617.0,1170.4 617.5,1170.8 618.0,1169.8 618.5,1169.5 619.0,1169.2 619.5,1169.9 620.0,1169.2 620.5,1169.8 621.0,1169.9 621.5,1169.5 622.0,1169.2 622.5,1170.0 623.0,1170.0 623.5,1169.9 624.0,1169.8 624.5,1170.4 625.0,1169.2 625.5,1170.1 626.0,1169.5 626.5,1170.3 627.0,1169.6 627.5,1169.6 628.0,1170.1 628.5,1168.6 629.0,1169.6 629.5,1168.7 630.0,1169.2 630.5,1170.2 631.0,1170.1 631.5,1169.5 632.0,1169.8 632.5,1169.8 633.0,1170.0 633.5,1170.9 634.0,1170.0 634.5,1171.2 635.0,1169.6 635.5,1170.3 636.0,1170.3 636.5,1170.0 637.0,1169.6 637.5,1170.7 638.0,1170.9 638.5,1170.5 639.0,1171.1 639.5,1170.4 640.0,1168.8 640.5,1170.5 641.0,1169.4 641.5,1170.7 642.0,1169.6 642.5,1170.0 643.0,1169.8 643.5,1169.4 644.0,1168.7 644.5,1169.7 645.0,1169.7 645.5,1170.4 646.0,1169.4 646.5,1169.9 647.0,1169.3 647.5,1169.8 648.0,1168.7 648.5,1171.0 649.0,1169.9 649.5,1169.2 650.0,1169.9 650.5,1170.2 651.0,1169.9 651.5,1170.5 652.0,1169.6 652.5,1168.1 653.0,1168.9 653.5,1170.2 654.0,1170.0 654.5,1169.7 655.0,1168.7 655.5,1169.7 656.0,1169.1 656.5,1166.8 657.0,1163.0 657.5,1155.2 658.0,1141.0 658.5,1123.2 659.0,1109.5 659.5,1112.2 660.0,1125.3 660.5,1144.1 661.0,1156.9 661.5,1163.4 662.0,1167.0 662.5,1169.5 663.0,1168.7 663.5,1168.6 664.0,1169.9 664.5,1170.1 665.0,1169.6 665.5,1170.6 666.0,1168.7 666.5,1171.2 667.0,1170.4 667.5,1169.9 668.0,1169.9 668.5,1169.6 669.0,1169.6 669.5,1169.9 670.0,1169.0 670.5,1171.1 671.0,1169.8 671.5,1170.2 672.0,1169.7 672.5,1169.6 673.0,1170.4 673.5,1170.2 674.0,1169.3 674.5,1169.6 675.0,1170.2 675.5,1168.5 676.0,1168.4 676.5,1170.7 677.0,1169.6 677.5,1168.2 678.0,1169.3 678.5,1169.7 679.0,1169.9 679.5,1170.1 680.0,1169.9 680.5,1170.2 681.0,1169.4 681.5,1170.1 682.0,1170.1 682.5,1170.6 683.0,1169.8 683.5,1170.4 684.0,1169.9 684.5,1169.2 685.0,1169.6 685.5,1169.5 686.0,1169.6 686.5,1169.8 687.0,1169.9 687.5,1170.0 688.0,1169.4 688.5,1170.5 689.0,1169.0 689.5,1169.8 690.0,1170.3 690.5,1170.1 691.0,1170.2 691.5,1169.7 692.0,1170.3 692.5,1169.1 693.0,1170.3 693.5,1171.2 694.0,1170.3 694.5,1171.1 695.0,1169.9 695.5,1169.2 696.0,1169.4 696.5,1170.7 697.0,1170.3 697.5,1168.7 698.0,1169.6 698.5,1169.8 699.0,1169.2 699.5,1168.3 700.0,1169.0 700.5,1169.7 701.0,1169.6 701.5,1169.4 702.0,1170.2 702.5,1170.5 703.0,1169.8 703.5,1170.4 704.0,1169.9 704.5,1169.8 705.0,1168.4 705.5,1170.4 706.0,1169.9 706.5,1169.9 707.0,1169.6 707.5,1169.2 708.0,1170.1 708.5,1170.3 709.0,1170.9 709.5,1170.4 710.0,1169.5 710.5,1169.8 711.0,1170.5 711.5,1170.1 712.0,1169.8 712.5,1169.5 713.0,1170.2 713.5,1170.0 714.0,1171.0 714.5,1170.5 715.0,1168.8 715.5,1171.2 716.0,1170.0 716.5,1169.7 717.0,1170.1 717.5,1170.3 718.0,1169.9 718.5,1169.8 719.0,1169.9 719.5,1171.0 720.0,1169.9 720.5,1170.4 721.0,1170.2 721.5,1169.7 722.0,1169.4 722.5,1169.3 723.0,1170.1 723.5,1169.3 724.0,1169.1 724.5,1169.1 725.0,1169.0 725.5,1169.9 726.0,1169.9 726.5,1169.3 727.0,1170.7 727.5,1169.7 728.0,1170.2 728.5,1170.1 729.0,1170.9 729.5,1170.4" fill="none" stroke="#ff00ff" stroke-width="2.6" stroke-linejoin="round" />
<rect x="119.4" y="907.4" width="611.1" height="376.0000000000001" fill="none" stroke="#000" stroke-width="2.8"/>
<line x1="119.4" y1="1057.8" x2="730.5" y2="1057.8" stroke="#000" stroke-width="2.8"/>
<text x="91.82" y="1292.5" font-size="24.20" fill="#000" font-family='"Liberation Sans", "DejaVu Sans", sans-serif' font-weight="normal" font-style="normal" stroke="#000" stroke-width="0.35" >0</text>
<text x="78.36" y="1236.0" font-size="24.20" fill="#000" font-family='"Liberation Sans", "DejaVu Sans", sans-serif' font-weight="normal" font-style="normal" stroke="#000" stroke-width="0.35" >10</text>
<text x="78.36" y="1179.5" font-size="24.20" fill="#000" font-family='"Liberation Sans", "DejaVu Sans", sans-serif' font-weight="normal" font-style="normal" stroke="#000" stroke-width="0.35" >20</text>
<text x="78.36" y="1123.0" font-size="24.20" fill="#000" font-family='"Liberation Sans", "DejaVu Sans", sans-serif' font-weight="normal" font-style="normal" stroke="#000" stroke-width="0.35" >30</text>
<text x="78.36" y="1066.5" font-size="24.20" fill="#000" font-family='"Liberation Sans", "DejaVu Sans", sans-serif' font-weight="normal" font-style="normal" stroke="#000" stroke-width="0.35" >40</text>
<text x="272.91" y="1316.2" font-size="24.20" fill="#000" font-family='"Liberation Sans", "DejaVu Sans", sans-serif' font-weight="normal" font-style="normal" stroke="#000" stroke-width="0.35" >−10</text>
<text x="454.71" y="1316.2" font-size="24.20" fill="#000" font-family='"Liberation Sans", "DejaVu Sans", sans-serif' font-weight="normal" font-style="normal" stroke="#000" stroke-width="0.35" >−5</text>
<text x="636.55" y="1316.2" font-size="24.20" fill="#000" font-family='"Liberation Sans", "DejaVu Sans", sans-serif' font-weight="normal" font-style="normal" stroke="#000" stroke-width="0.35" >0</text>
<text x="301.66" y="1355.8" font-size="26.80" fill="#000" font-family='"Liberation Sans", "DejaVu Sans", sans-serif' font-weight="normal" font-style="normal" stroke="#000" stroke-width="0.35" >laser detuning (GHz)</text>
<text x="0" y="0" transform="translate(56.2,1239.87) rotate(-90)" font-size="27.06" fill="#000" font-family='"Liberation Sans", "DejaVu Sans", sans-serif' font-weight="normal" font-style="normal" stroke="#000" stroke-width="0.35" >fluor. (kcps)</text>
<text x="0" y="0" transform="translate(55.2,1043.39) rotate(-90)" font-size="28.10" fill="#000" font-family='"Liberation Sans", "DejaVu Sans", sans-serif' font-weight="normal" font-style="normal" stroke="#000" stroke-width="0.35" >|</text>
<text x="0" y="0" transform="translate(55.2,1034.86) rotate(-90)" font-size="26.60" fill="#000" font-family='"DejaVu Sans", sans-serif' font-weight="normal" font-style="normal" stroke="#000" stroke-width="0.35" >⟨</text>
<text x="0" y="0" transform="translate(55.2,1024.17) rotate(-90)" font-size="26.75" fill="#000" font-family='"DejaVu Sans", sans-serif' font-weight="normal" font-style="italic" stroke="#000" stroke-width="0.35" >ψ</text>
<text x="0" y="0" transform="translate(59.6,1007.03) rotate(-90)" font-size="18.90" fill="#000" font-family='"DejaVu Sans", sans-serif' font-weight="normal" font-style="italic" stroke="#000" stroke-width="0.35" >f</text>
<text x="0" y="0" transform="translate(55.2,998.69) rotate(-90)" font-size="28.10" fill="#000" font-family='"Liberation Sans", "DejaVu Sans", sans-serif' font-weight="normal" font-style="normal" stroke="#000" stroke-width="0.35" >|</text>
<text x="0" y="0" transform="translate(55.2,990.76) rotate(-90)" font-size="26.50" fill="#000" font-family='"Liberation Sans", "DejaVu Sans", sans-serif' font-weight="normal" font-style="normal" stroke="#000" stroke-width="0.35" >d</text>
<text x="0" y="0" transform="translate(55.2,975.19) rotate(-90)" font-size="28.10" fill="#000" font-family='"Liberation Sans", "DejaVu Sans", sans-serif' font-weight="normal" font-style="normal" stroke="#000" stroke-width="0.35" >|</text>
<text x="0" y="0" transform="translate(55.2,966.57) rotate(-90)" font-size="26.75" fill="#000" font-family='"DejaVu Sans", sans-serif' font-weight="normal" font-style="italic" stroke="#000" stroke-width="0.35" >ψ</text>
<text x="0" y="0" transform="translate(59.6,949.66) rotate(-90)" font-size="18.90" fill="#000" font-family='"DejaVu Sans", sans-serif' font-weight="normal" font-style="italic" stroke="#000" stroke-width="0.35" >i</text>
<text x="0" y="0" transform="translate(55.2,943.73) rotate(-90)" font-size="26.60" fill="#000" font-family='"DejaVu Sans", sans-serif' font-weight="normal" font-style="normal" stroke="#000" stroke-width="0.35" >⟩</text>
<text x="0" y="0" transform="translate(55.2,932.09) rotate(-90)" font-size="28.10" fill="#000" font-family='"Liberation Sans", "DejaVu Sans", sans-serif' font-weight="normal" font-style="normal" stroke="#000" stroke-width="0.35" >|</text>
<text x="0" y="0" transform="translate(45.4,924.13) rotate(-90)" font-size="20.60" fill="#000" font-family='"Liberation Sans", "DejaVu Sans", sans-serif' font-weight="normal" font-style="normal" stroke="#000" stroke-width="0.35" >2</text>
<rect x="580" y="1178" width="125.8" height="86.5" rx="4" ry="4" fill="#fff" fill-opacity="0.85" stroke="#d0d0d0" stroke-width="4"/>
<line x1="587.7" y1="1199.7" x2="635.7" y2="1199.7" stroke="#ff00ff" stroke-width="2.6"/>
<line x1="587.7" y1="1239.3" x2="635.7" y2="1239.3" stroke="#0a5fc3" stroke-width="2.6"/>
<text x="651.88" y="1204.2" font-size="23.77" fill="#000" font-family='"Liberation Sans", "DejaVu Sans", sans-serif' font-weight="normal" font-style="normal" stroke="#000" stroke-width="0.35" >|+1⟩</text>
<text x="651.86" y="1244.3" font-size="24.04" fill="#000" font-family='"Liberation Sans", "DejaVu Sans", sans-serif' font-weight="normal" font-style="normal" stroke="#000" stroke-width="0.35" >|0⟩</text>
<path d="M151,1194.1 H138.1 V1265.5 H151" fill="none" stroke="#000" stroke-width="6.6"/>
<path d="M167.7,1208.1 H158.8 V1261.1 H167.7" fill="none" stroke="#000" stroke-width="5.6"/>
<path d="M164.5,1254.2 H176.8 V1217.3 H214.6 V1254.2 H226.3" fill="none" stroke="#bdd195" stroke-width="3.6" stroke-linecap="round"/>
<path d="M229.5,1254.2 H236.3 V1217.3 H266.4 V1254.2 H276.4" fill="none" stroke="#1565c0" stroke-width="3.4" stroke-dasharray="5 3.2" stroke-linecap="round"/>
<text x="243.19" y="1244" font-size="26.14" fill="#1565c0" font-family='"DejaVu Sans", sans-serif' font-weight="normal" font-style="italic" stroke="#1565c0" stroke-width="0.35" >π</text>
<rect x="289.2" y="1235.9" width="26.7" height="18.3" fill="#f2bcbc"/>
<path d="M275,1254.2 H289.2 V1235.9 H315.9 V1254.2 H327.8" fill="none" stroke="#e3361b" stroke-width="3.5"/>
<path d="M324,1208.5 H333.4 V1261.1 H324" fill="none" stroke="#000" stroke-width="5.6"/>
<path d="M381.6,1194.7 H392.7 V1265 H381.6" fill="none" stroke="#000" stroke-width="6.6"/>
<text x="348.08" y="1229.7" font-size="28.00" fill="#000" font-family='"Liberation Sans", "DejaVu Sans", sans-serif' font-weight="normal" font-style="normal" stroke="#000" stroke-width="0.35" >df</text>
<line x1="345.3" y1="1254.7" x2="367" y2="1240" stroke="#000" stroke-width="3.2"/>
<polygon points="377.5,1233 361.5,1235.5 369.5,1247.5" fill="#000"/></svg>
</body></html>
